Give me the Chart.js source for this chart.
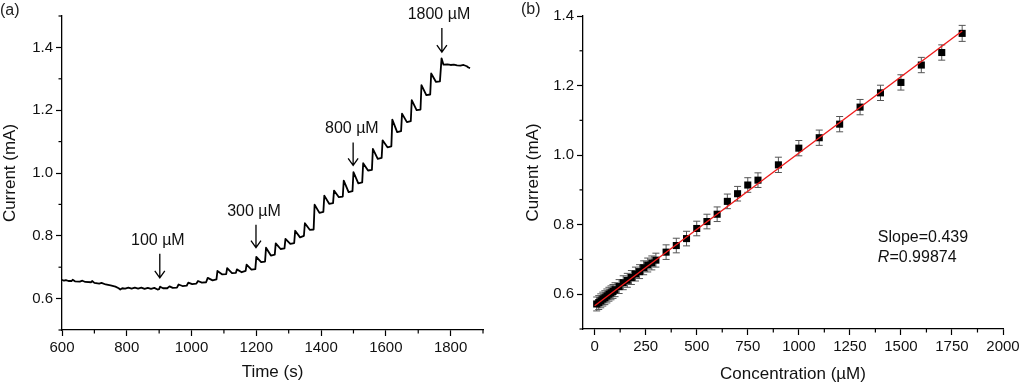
<!DOCTYPE html>
<html>
<head>
<meta charset="utf-8">
<script src="https://cdn.jsdelivr.net/npm/chart.js@4.4.1/dist/chart.umd.min.js"></script>
<style>
  html, body { margin: 0; padding: 0; background: #fff; }
  body { width: 1024px; height: 385px; position: relative; overflow: hidden; font-family: 'Liberation Sans', Arial, sans-serif; }
  #wrapA { position: absolute; left: 0; top: 0; width: 505px; height: 385px; }
  #wrapB { position: absolute; left: 505px; top: 0; width: 519px; height: 385px; }
  .panel { position: absolute; font-size: 16px; line-height: 20px; color: #222; }
</style>
</head>
<body>
<div id="wrapA"><canvas id="chartA" width="505" height="385"></canvas></div>
<div id="wrapB"><canvas id="chartB" width="519" height="385"></canvas></div>
<div class="panel" style="left:0px; top:0px;">(a)</div>
<div class="panel" style="left:521px; top:-1px;">(b)</div>
<script>
// ---------- Panel (a): amperometric response ----------
const timeS = [
  600, 606, 612, 620, 630, 633, 640, 655, 663, 672, 690, 693, 700, 715, 722, 735, 750, 765, 775, 780,
  786, 795, 805, 815, 825, 835, 845, 855, 865, 875, 885, 895, 900, 903, 912, 925, 932, 942, 955, 960,
  972, 985, 990, 1002, 1015, 1020, 1032, 1045, 1050, 1065, 1077, 1080, 1095, 1107, 1110, 1125, 1137, 1140, 1155, 1167,
  1170, 1185, 1197, 1200, 1215, 1227, 1230, 1245, 1257, 1260, 1275, 1287, 1290, 1305, 1317, 1320, 1335, 1347, 1350, 1365,
  1377, 1380, 1395, 1407, 1410, 1425, 1437, 1440, 1455, 1467, 1470, 1485, 1497, 1500, 1515, 1527, 1530, 1545, 1557, 1560,
  1575, 1587, 1590, 1605, 1617, 1620, 1635, 1647, 1650, 1665, 1677, 1680, 1695, 1707, 1710, 1725, 1737, 1740, 1755, 1767,
  1772, 1778, 1790, 1800, 1810, 1820, 1830, 1840, 1850, 1855, 1860
];
const currentMA = [
  0.660, 0.657, 0.659, 0.656, 0.656, 0.660, 0.655, 0.654, 0.657, 0.653, 0.652, 0.656, 0.650, 0.648, 0.650, 0.645, 0.642, 0.638, 0.633, 0.629,
  0.633, 0.632, 0.635, 0.632, 0.635, 0.632, 0.635, 0.631, 0.634, 0.631, 0.634, 0.629, 0.630, 0.638, 0.633, 0.633, 0.639, 0.634, 0.635, 0.645,
  0.640, 0.641, 0.651, 0.646, 0.648, 0.656, 0.651, 0.652, 0.666, 0.658, 0.661, 0.688, 0.677, 0.678, 0.697, 0.681, 0.682, 0.693, 0.684, 0.688,
  0.708, 0.692, 0.694, 0.733, 0.716, 0.718, 0.762, 0.737, 0.740, 0.776, 0.758, 0.760, 0.790, 0.774, 0.777, 0.816, 0.795, 0.800, 0.840, 0.819,
  0.820, 0.899, 0.873, 0.876, 0.928, 0.902, 0.904, 0.944, 0.923, 0.925, 0.976, 0.939, 0.942, 1.003, 0.967, 0.970, 1.031, 1.008, 1.010, 1.077,
  1.045, 1.048, 1.104, 1.082, 1.085, 1.170, 1.130, 1.133, 1.189, 1.162, 1.165, 1.232, 1.200, 1.202, 1.280, 1.248, 1.250, 1.317, 1.290, 1.292,
  1.365, 1.345, 1.346, 1.344, 1.345, 1.343, 1.342, 1.344, 1.340, 1.336, 1.334
];
const arrowLabels = ['100 µM', '300 µM', '800 µM', '1800 µM'];
const arrowTimes = [902, 1199, 1499, 1773];

const aXMajor = [600, 800, 1000, 1200, 1400, 1600, 1800];
const aXMinor = [700, 900, 1100, 1300, 1500, 1700, 1900];
const aYMajor = [0.6, 0.8, 1.0, 1.2, 1.4];
const aYMinor = [0.5, 0.7, 0.9, 1.1, 1.3, 1.5];

// ---------- Panel (b): calibration ----------
const concUM = [10, 20, 30, 40, 50, 60, 70, 80, 90, 100,
  120, 140, 160, 180, 200, 220, 240, 260, 280, 300,
  350, 400, 450, 500, 550, 600, 650, 700, 750, 800,
  900, 1000, 1100, 1200, 1300, 1400, 1500, 1600, 1700, 1800];
const respMA = [0.572, 0.576, 0.581, 0.586, 0.590, 0.595, 0.600, 0.604, 0.608, 0.613,
  0.622, 0.633, 0.640, 0.648, 0.658, 0.665, 0.676, 0.684, 0.690, 0.698,
  0.721, 0.740, 0.760, 0.789, 0.809, 0.830, 0.867, 0.889, 0.914, 0.928,
  0.972, 1.020, 1.050, 1.089, 1.138, 1.179, 1.209, 1.259, 1.295, 1.350];
const errMA = [0.020, 0.020, 0.020, 0.020, 0.020, 0.020, 0.020, 0.020, 0.020, 0.020,
  0.020, 0.020, 0.020, 0.020, 0.020, 0.020, 0.020, 0.020, 0.020, 0.020,
  0.021, 0.021, 0.021, 0.021, 0.021, 0.021, 0.021, 0.021, 0.021, 0.021,
  0.022, 0.022, 0.022, 0.022, 0.022, 0.022, 0.022, 0.022, 0.022, 0.023];
const fitConc = [0, 1800];
const fitMA = [0.567, 1.357];

const bXMajor = [0, 250, 500, 750, 1000, 1250, 1500, 1750, 2000];
const bXMinor = [125, 375, 625, 875, 1125, 1375, 1625, 1875];
const bYMajor = [0.6, 0.8, 1.0, 1.2, 1.4];
const bYMinor = [0.5, 0.7, 0.9, 1.1, 1.3];

// ---------- common helpers ----------
const FONT = "'Liberation Sans', Arial, sans-serif";
Chart.defaults.font.family = FONT;
Chart.defaults.color = '#111';

const minorTicksPlugin = {
  id: 'minorTicks',
  afterDraw(chart, args, opts) {
    const ctx = chart.ctx;
    ctx.save();
    ctx.strokeStyle = '#000';
    ctx.lineWidth = 1.2;
    Object.entries(opts.axes || {}).forEach(([id, values]) => {
      const s = chart.scales[id];
      values.forEach(v => {
        const p = s.getPixelForValue(v);
        ctx.beginPath();
        if (s.isHorizontal()) { ctx.moveTo(p, s.top); ctx.lineTo(p, s.top + 3.5); }
        else { ctx.moveTo(s.right, p); ctx.lineTo(s.right - 3.5, p); }
        ctx.stroke();
      });
    });
    ctx.restore();
  }
};

function axis(opts) {
  const { min, max, major, width, height, title, titlePad, fmt } = opts;
  return {
    type: 'linear',
    min, max,
    afterBuildTicks: (s) => { s.ticks = major.map(v => ({ value: v })); },
    afterFit: (s) => {
      if (width !== undefined) s.width = width;
      if (height !== undefined) s.height = height;
      s.paddingLeft = 0; s.paddingRight = 0; s.paddingTop = 0; s.paddingBottom = 0;
    },
    grid: { drawOnChartArea: false, drawTicks: true, tickLength: 6, tickColor: '#000', tickWidth: 1.2 },
    border: { display: true, color: '#000', width: 1.3 },
    ticks: { font: { size: 15 }, color: '#111', padding: 3, autoSkip: false, maxRotation: 0, callback: fmt },
    title: { display: true, text: title, font: { size: 17 }, color: '#111', padding: titlePad }
  };
}

// ---------- Chart A ----------
const arrowPlugin = {
  id: 'arrows',
  afterDatasetsDraw(chart, args, opts) {
    const ctx = chart.ctx, xs = chart.scales.x, ys = chart.scales.y;
    ctx.save();
    ctx.strokeStyle = '#000';
    ctx.fillStyle = '#111';
    ctx.lineWidth = 1.3;
    ctx.font = '16px ' + FONT;
    ctx.textAlign = 'center';
    ctx.textBaseline = 'middle';
    opts.items.forEach(it => {
      const x = xs.getPixelForValue(it.t);
      const yTop = ys.getPixelForValue(it.top);
      const yBot = ys.getPixelForValue(it.bottom);
      ctx.beginPath();
      ctx.moveTo(x, yTop); ctx.lineTo(x, yBot);
      ctx.moveTo(x - 5, yBot - 7); ctx.lineTo(x, yBot); ctx.lineTo(x + 5, yBot - 7);
      ctx.stroke();
      ctx.fillText(it.label, xs.getPixelForValue(it.labelT), ys.getPixelForValue(it.labelV));
    });
    ctx.restore();
  }
};

new Chart(document.getElementById('chartA'), {
  type: 'line',
  data: {
    datasets: [{
      data: timeS.map((t, i) => ({ x: t, y: currentMA[i] })),
      borderColor: '#000', borderWidth: 1.8, pointRadius: 0, tension: 0, fill: false,
      borderJoinStyle: 'round'
    }]
  },
  options: {
    responsive: false, animation: false,
    layout: { padding: { left: 0, right: 22, top: 16, bottom: 0 } },
    plugins: {
      legend: { display: false }, tooltip: { enabled: false },
      minorTicks: { axes: { x: aXMinor, y: aYMinor } },
      arrows: { items: [
        { t: arrowTimes[0], top: 0.743, bottom: 0.666, label: arrowLabels[0], labelT: 896, labelV: 0.784 },
        { t: arrowTimes[1], top: 0.835, bottom: 0.762, label: arrowLabels[1], labelT: 1193, labelV: 0.877 },
        { t: arrowTimes[2], top: 1.097, bottom: 1.024, label: arrowLabels[2], labelT: 1495, labelV: 1.142 },
        { t: arrowTimes[3], top: 1.462, bottom: 1.385, label: arrowLabels[3], labelT: 1764, labelV: 1.503 }
      ] }
    },
    scales: {
      x: axis({ min: 600, max: 1900, major: aXMajor, height: 55, title: 'Time (s)',
        titlePad: { top: 0, bottom: 2 }, fmt: v => String(v) }),
      y: axis({ min: 0.5, max: 1.5, major: aYMajor, width: 62, title: 'Current (mA)',
        titlePad: { top: 0, bottom: 0 }, fmt: v => Number(v).toFixed(1) })
    }
  },
  plugins: [minorTicksPlugin, arrowPlugin]
});

// ---------- Chart B ----------
const errorBarPlugin = {
  id: 'errorBars',
  beforeDatasetsDraw(chart) {
    const ctx = chart.ctx, xs = chart.scales.x, ys = chart.scales.y;
    ctx.save();
    ctx.strokeStyle = '#555';
    ctx.lineWidth = 1;
    concUM.forEach((c, i) => {
      const x = xs.getPixelForValue(c);
      const y1 = ys.getPixelForValue(respMA[i] + errMA[i]);
      const y2 = ys.getPixelForValue(respMA[i] - errMA[i]);
      ctx.beginPath();
      ctx.moveTo(x, y1); ctx.lineTo(x, y2);
      ctx.moveTo(x - 3.5, y1); ctx.lineTo(x + 3.5, y1);
      ctx.moveTo(x - 3.5, y2); ctx.lineTo(x + 3.5, y2);
      ctx.stroke();
    });
    ctx.restore();
  }
};

const notePlugin = {
  id: 'note',
  afterDatasetsDraw(chart) {
    const ctx = chart.ctx, xs = chart.scales.x, ys = chart.scales.y;
    const x = xs.getPixelForValue(1387);
    ctx.save();
    ctx.fillStyle = '#111';
    ctx.textAlign = 'left';
    ctx.textBaseline = 'middle';
    ctx.font = '16px ' + FONT;
    ctx.fillText('Slope=0.439', x, ys.getPixelForValue(0.762));
    const y2 = ys.getPixelForValue(0.706);
    ctx.font = 'italic 16px ' + FONT;
    ctx.fillText('R', x, y2);
    const w = ctx.measureText('R').width;
    ctx.font = '16px ' + FONT;
    ctx.fillText('=0.99874', x + w, y2);
    ctx.restore();
  }
};

new Chart(document.getElementById('chartB'), {
  type: 'scatter',
  data: {
    datasets: [
      {
        type: 'line',
        data: fitConc.map((c, i) => ({ x: c, y: fitMA[i] })),
        borderColor: '#ee1c1c', borderWidth: 1.4, pointRadius: 0, tension: 0, fill: false
      },
      {
        data: concUM.map((c, i) => ({ x: c, y: respMA[i] })),
        pointStyle: 'rect', pointRadius: 5, backgroundColor: '#000', borderColor: '#000', borderWidth: 0
      }
    ]
  },
  options: {
    responsive: false, animation: false,
    layout: { padding: { left: 0, right: 21, top: 16, bottom: 0 } },
    plugins: {
      legend: { display: false }, tooltip: { enabled: false },
      minorTicks: { axes: { x: bXMinor, y: bYMinor } }
    },
    scales: {
      x: axis({ min: -57, max: 2000, major: bXMajor, height: 56, title: 'Concentration (µM)',
        titlePad: { top: 0, bottom: 0 }, fmt: v => String(v) }),
      y: axis({ min: 0.5, max: 1.4, major: bYMajor, width: 78, title: 'Current (mA)',
        titlePad: { top: 18, bottom: 0 }, fmt: v => Number(v).toFixed(1) })
    }
  },
  plugins: [minorTicksPlugin, errorBarPlugin, notePlugin]
});
</script>
</body>
</html>
